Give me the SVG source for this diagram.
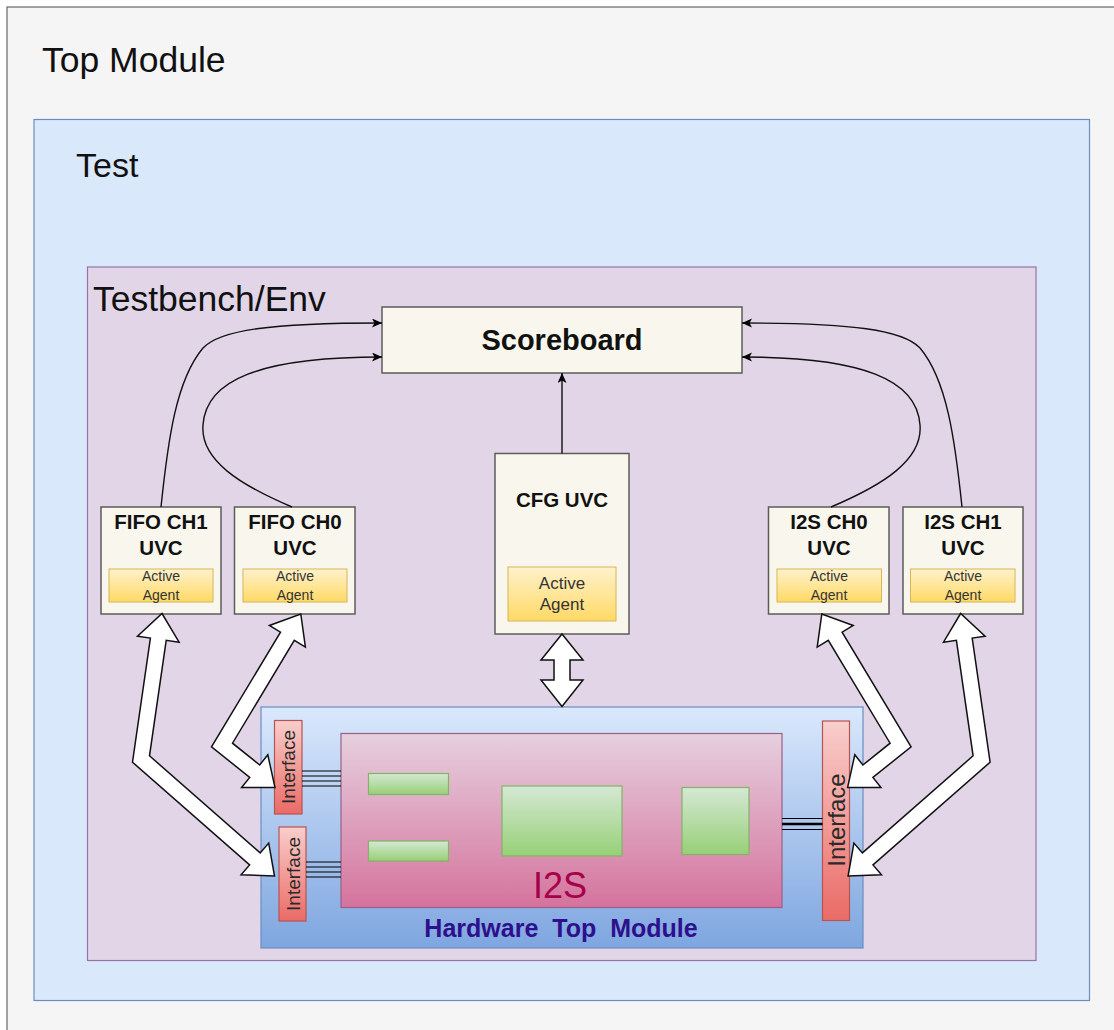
<svg xmlns="http://www.w3.org/2000/svg" width="1114" height="1030" viewBox="0 0 1114 1030">
  <defs>
    <linearGradient id="gAgent" x1="0" y1="0" x2="0" y2="1">
      <stop offset="0" stop-color="#fff2cc"/>
      <stop offset="1" stop-color="#ffd966"/>
    </linearGradient>
    <linearGradient id="gHw" x1="0" y1="0" x2="0" y2="1">
      <stop offset="0" stop-color="#dae8fc"/>
      <stop offset="1" stop-color="#7ea6e0"/>
    </linearGradient>
    <linearGradient id="gI2s" x1="0" y1="0" x2="0" y2="1">
      <stop offset="0" stop-color="#e6d0de"/>
      <stop offset="1" stop-color="#d5739d"/>
    </linearGradient>
    <linearGradient id="gGreen" x1="0" y1="0" x2="0" y2="1">
      <stop offset="0" stop-color="#d5e8d4"/>
      <stop offset="1" stop-color="#97d077"/>
    </linearGradient>
    <linearGradient id="gIf" x1="0" y1="0" x2="0" y2="1">
      <stop offset="0" stop-color="#f8cecc"/>
      <stop offset="1" stop-color="#ea6b66"/>
    </linearGradient>
    <marker id="arrow" markerUnits="userSpaceOnUse" markerWidth="12" markerHeight="10" refX="10" refY="4.5" orient="auto">
      <path d="M0,0 L10,4.5 L0,9 L2.5,4.5 Z" fill="#000"/>
    </marker>
    <style>
      .title { font-family: "Liberation Sans", Arial, sans-serif; fill: #111; }
      .uvc { fill: #f9f7ed; stroke: #5c5c5c; stroke-width: 1.5; }
      .agent { fill: url(#gAgent); stroke: #d6b656; stroke-width: 1; }
      .lbl { font-family: "Liberation Sans", Arial, sans-serif; font-weight: bold; font-size: 20.5px; fill: #111; text-anchor: middle; }
      .agtxt { font-family: "Liberation Sans", Arial, sans-serif; font-size: 14px; fill: #333; text-anchor: middle; }
      .agtxt-lg { font-size: 17px; }
      .green { fill: url(#gGreen); stroke: #82b366; stroke-width: 1.2; }
      .iface { fill: url(#gIf); stroke: #b85450; stroke-width: 1.2; }
      .iftxt { font-family: "Liberation Sans", Arial, sans-serif; fill: #2a2a2a; text-anchor: middle; }
      .bus { stroke: #000; stroke-width: 1.2; fill: none; }
      .link { stroke: #111; stroke-width: 1.4; fill: none; }
      .flex { fill: #fff; stroke: #111; stroke-width: 1.5; stroke-linejoin: miter; }
    </style>
  </defs>

  <rect width="1114" height="1030" fill="#ffffff"/>

  <!-- Containers -->
  <g id="top-module">
    <rect x="7" y="7" width="1125" height="1045" fill="#f5f5f5" stroke="#666" stroke-width="1.2"/>
    <text class="title" x="42" y="72" font-size="35.5">Top Module</text>
  </g>
  <g id="test">
    <rect x="34" y="119.5" width="1055.5" height="881" fill="#dae8fc" stroke="#6c8ebf" stroke-width="1.2"/>
    <text class="title" x="76" y="177" font-size="34">Test</text>
  </g>
  <g id="testbench">
    <rect x="87.5" y="267" width="948.5" height="693.5" fill="#e1d5e7" stroke="#9673a6" stroke-width="1.2"/>
    <text class="title" x="93" y="311" font-size="35.5">Testbench/Env</text>
  </g>

  <!-- Scoreboard -->
  <g id="scoreboard">
    <rect class="uvc" x="382" y="307" width="360" height="66"/>
    <text x="562" y="350" font-family="Liberation Sans, Arial, sans-serif" font-weight="bold" font-size="29" fill="#111" text-anchor="middle">Scoreboard</text>
  </g>

  <!-- UVCs -->
  <g id="fifo-ch1-uvc">
    <rect class="uvc" x="101" y="507" width="120" height="107"/>
    <text class="lbl" x="161" y="529">FIFO CH1</text>
    <text class="lbl" x="161" y="555">UVC</text>
    <rect class="agent" x="109" y="569" width="104" height="33"/>
    <text class="agtxt" x="161" y="581">Active</text>
    <text class="agtxt" x="161" y="600">Agent</text>
  </g>
  <g id="fifo-ch0-uvc">
    <rect class="uvc" x="234.5" y="507" width="120.5" height="107"/>
    <text class="lbl" x="295" y="529">FIFO CH0</text>
    <text class="lbl" x="295" y="555">UVC</text>
    <rect class="agent" x="243" y="569" width="104" height="33"/>
    <text class="agtxt" x="295" y="581">Active</text>
    <text class="agtxt" x="295" y="600">Agent</text>
  </g>
  <g id="cfg-uvc">
    <rect class="uvc" x="495" y="453.5" width="134" height="180.5"/>
    <text class="lbl" x="562" y="507">CFG UVC</text>
    <rect class="agent" x="508" y="567" width="108" height="54"/>
    <text class="agtxt agtxt-lg" x="562" y="589">Active</text>
    <text class="agtxt agtxt-lg" x="562" y="610">Agent</text>
  </g>
  <g id="i2s-ch0-uvc">
    <rect class="uvc" x="768.5" y="507" width="120.5" height="107"/>
    <text class="lbl" x="829" y="529">I2S CH0</text>
    <text class="lbl" x="829" y="555">UVC</text>
    <rect class="agent" x="777" y="569" width="104.5" height="33"/>
    <text class="agtxt" x="829" y="581">Active</text>
    <text class="agtxt" x="829" y="600">Agent</text>
  </g>
  <g id="i2s-ch1-uvc">
    <rect class="uvc" x="903" y="507" width="120" height="107"/>
    <text class="lbl" x="963" y="529">I2S CH1</text>
    <text class="lbl" x="963" y="555">UVC</text>
    <rect class="agent" x="910.5" y="569" width="104.5" height="33"/>
    <text class="agtxt" x="963" y="581">Active</text>
    <text class="agtxt" x="963" y="600">Agent</text>
  </g>

  <!-- Hardware top module -->
  <g id="hardware-top">
    <rect x="261" y="707" width="602" height="241" fill="url(#gHw)" stroke="#6c8ebf" stroke-width="1.2"/>
    <text x="561" y="937" font-family="Liberation Sans, Arial, sans-serif" font-weight="bold" font-size="25" word-spacing="7" fill="#2e0f8c" text-anchor="middle">Hardware Top Module</text>
  </g>
  <g id="i2s-dut">
    <rect x="341" y="733.5" width="441" height="174" fill="url(#gI2s)" stroke="#996185" stroke-width="1.2"/>
    <text x="560" y="898" font-family="Liberation Sans, Arial, sans-serif" font-size="36" fill="#a6004b" text-anchor="middle">I2S</text>
    <rect class="green" x="368.5" y="773.5" width="80" height="21"/>
    <rect class="green" x="368.5" y="841" width="80" height="20"/>
    <rect class="green" x="502" y="786" width="120" height="70"/>
    <rect class="green" x="682" y="787.5" width="67" height="67"/>
  </g>
  <g id="interface-left-top">
    <rect class="iface" x="274.5" y="720.5" width="27.5" height="93.5"/>
    <text class="iftxt" font-size="19" transform="translate(295,767) rotate(-90)">Interface</text>
  </g>
  <g id="interface-left-bottom">
    <rect class="iface" x="279" y="827" width="27" height="94"/>
    <text class="iftxt" font-size="19" transform="translate(299.5,874) rotate(-90)">Interface</text>
  </g>
  <g id="interface-right">
    <rect class="iface" x="822.5" y="721" width="27" height="199.5"/>
    <text class="iftxt" font-size="24" transform="translate(844.5,820) rotate(-90)">Interface</text>
  </g>

  <!-- Connectors -->
  <g id="connectors">
    <!-- signal buses between interfaces and the DUT -->
    <path class="bus" d="M302,771 H341 M302,776 H341 M302,781 H341 M302,786 H341"/>
    <path class="bus" d="M306,862 H341 M306,867 H341 M306,872 H341 M306,877 H341"/>
    <path class="bus" d="M782,818.5 H822.5 M782,829.5 H822.5"/>
    <path d="M782,824 H822.5" stroke="#000" stroke-width="2.4" fill="none"/>

    <!-- analysis links into the scoreboard -->
    <path class="link" marker-end="url(#arrow)" d="M161,507 C168,440 176,380 203,348 C220,330 270,323 382,323"/>
    <path class="link" marker-end="url(#arrow)" d="M292,507 C240,485 200,460 203,425 C206,380 260,357 382,357"/>
    <path class="link" marker-end="url(#arrow)" d="M831,507 C883,485 923,460 920,425 C917,380 863,357 742,357"/>
    <path class="link" marker-end="url(#arrow)" d="M962,507 C955,440 947,380 920,348 C903,330 853,323 742,323"/>
    <path class="link" marker-end="url(#arrow)" d="M562,453.5 V373"/>

    <!-- bidirectional agent / DUT links -->
    <polygon class="flex" points="562,634 583,660 570,660 570,680 583,680 562,706.5 541,680 554,680 554,660 541,660"/>
    <polygon id="flex-fifo1" class="flex" points="162,613.5 179.1,642.2 166.2,640.3 149.5,755.8 260.2,852.9 268.7,843.1 274.5,876 241.1,874.7 249.6,864.9 132.5,762.2 150.4,638.1 137.5,636.2"/>
    <polygon id="flex-fifo0" class="flex" points="300.8,614 305.4,647.1 294.3,640.4 232.5,743.2 259.7,765 267.8,754.8 275,787.5 241.6,787.6 249.7,777.4 211.5,746.8 280.5,632.2 269.4,625.5"/>
    <polygon id="flex-i2s0" class="flex" transform="matrix(-1 0 0 1 1122.6 0)" points="300.8,614 305.4,647.1 294.3,640.4 232.5,743.2 259.7,765 267.8,754.8 275,787.5 241.6,787.6 249.7,777.4 211.5,746.8 280.5,632.2 269.4,625.5"/>
    <polygon id="flex-i2s1" class="flex" transform="matrix(-1 0 0 1 1122.6 0)" points="162,613.5 179.1,642.2 166.2,640.3 149.5,755.8 260.2,852.9 268.7,843.1 274.5,876 241.1,874.7 249.6,864.9 132.5,762.2 150.4,638.1 137.5,636.2"/>
  </g>
</svg>
